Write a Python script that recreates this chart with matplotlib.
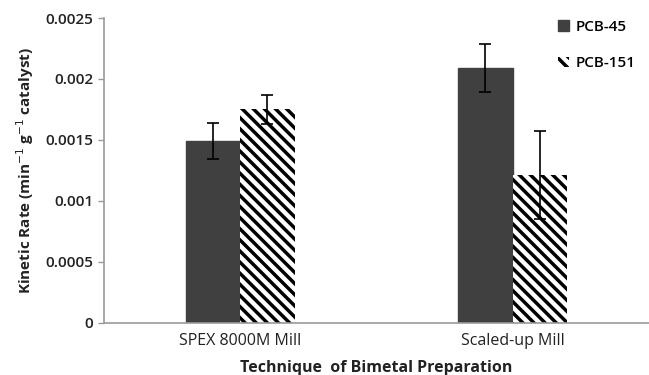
import matplotlib.pyplot as plt
import numpy as np

plt.rcParams['font.family'] = ['Open Sans', 'DejaVu Sans']
plt.rcParams['hatch.linewidth'] = 2.5

categories = ['SPEX 8000M Mill', 'Scaled-up Mill']
series = ['PCB-45', 'PCB-151']
pcb45 = [0.00149, 0.00209]
pcb45_err = [0.00015, 0.00020]
pcb151 = [0.00175, 0.00121]
pcb151_err = [0.00012, 0.00036]

fig = plt.figure(figsize=(6.49, 3.75), dpi=100)
ax = fig.add_axes([0.160, 0.139, 0.84, 0.813])

x = np.arange(len(categories))
w = 0.2
ax.bar(x - w/2, pcb45, w, color='#404040', edgecolor='#404040', label=series[0],
       yerr=pcb45_err, capsize=4, error_kw=dict(ecolor='black', elinewidth=1.2, capthick=1.2))
ax.bar(x + w/2, pcb151, w, color='white', edgecolor='black', linewidth=0, hatch='\\\\\\',
       label=series[1],
       yerr=pcb151_err, capsize=4, error_kw=dict(ecolor='black', elinewidth=1.2, capthick=1.2))

ax.set_xlim(-0.5, 1.5)
ax.set_ylim(0, 0.0025)
ax.set_yticks([0, 0.0005, 0.001, 0.0015, 0.002, 0.0025])
ax.set_yticklabels(['0', '0.0005', '0.001', '0.0015', '0.002', '0.0025'],
                   fontsize=11, fontweight='semibold', color='#222222')
ax.set_xticks(x)
ax.set_xticklabels(categories, fontsize=11.5, color='#222222')
ax.tick_params(axis='x', length=0, pad=7)
ax.tick_params(axis='y', length=4, color='#999999', width=1)

for s in ['top', 'right']:
    ax.spines[s].set_visible(False)
for s in ['left', 'bottom']:
    ax.spines[s].set_color('#999999')
    ax.spines[s].set_linewidth(1.2)

ax.set_ylabel('Kinetic Rate (min$^{-1}$ g$^{-1}$ catalyst)', fontsize=11, fontweight='bold',
              color='#222222', labelpad=7)
ax.set_xlabel('Technique  of Bimetal Preparation', fontsize=11.5, fontweight='bold',
              color='#222222', labelpad=8)

ax.legend(loc='upper right', bbox_to_anchor=(1.0, 1.04), frameon=False,
          prop=dict(size=11, weight='semibold'),
          handlelength=0.7, handleheight=0.7, handletextpad=0.4, labelspacing=1.5)

plt.savefig('out.png', dpi=100)
